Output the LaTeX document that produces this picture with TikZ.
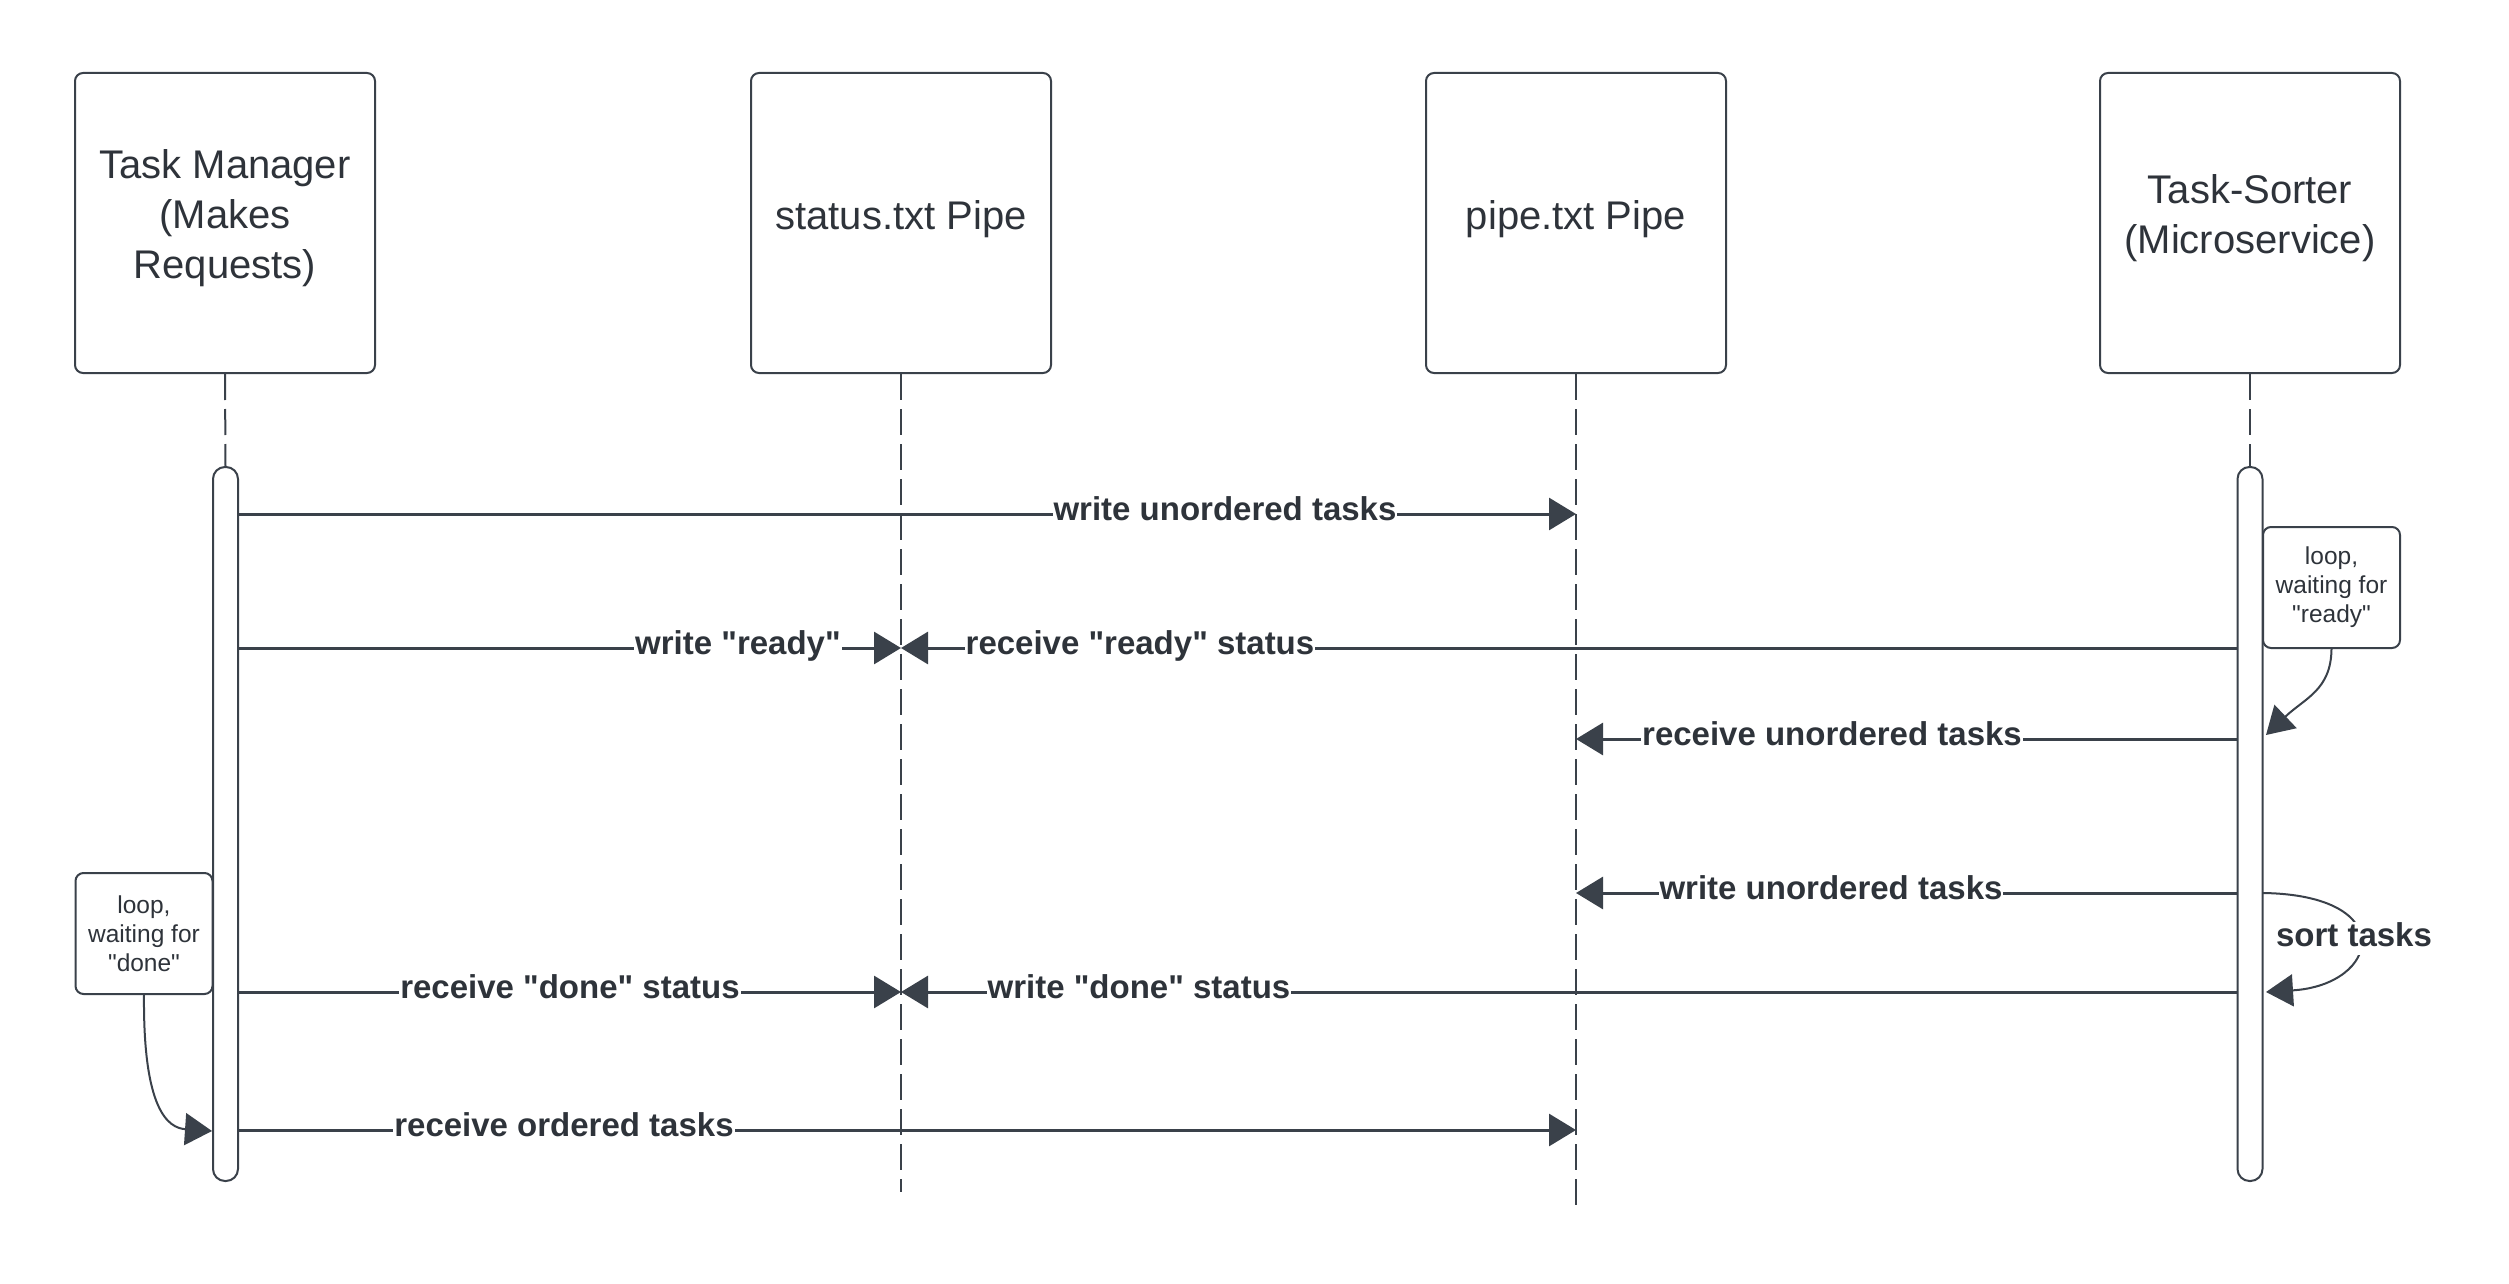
\documentclass[tikz,border=0pt]{standalone}
\usepackage{fontspec}
\newfontfamily\lsans{Liberation Sans}
\usetikzlibrary{arrows.meta}
\definecolor{ln}{HTML}{3A414A}
\definecolor{tx}{HTML}{2E333A}
\begin{document}
\begin{tikzpicture}[x=1pt,y=-1pt,
 box/.style={draw=ln,line width=2pt,rounded corners=8pt,minimum width=300pt,minimum height=300pt,inner sep=0pt},
 head/.style={text=tx,align=center,font=\lsans\fontsize{40pt}{50pt}\selectfont,inner sep=0pt},
 bar/.style={draw=ln,line width=2pt,fill=white,rounded corners=12pt,minimum width=25pt,minimum height=714pt,inner sep=0pt},
 life/.style={draw=ln,line width=2pt,dash pattern=on 26pt off 9pt},
 msg/.style={draw=ln,line width=3pt,-{Triangle[length=27pt,width=32pt]}},
 curv/.style={draw=ln,line width=2pt,-{Triangle[length=27pt,width=32pt]}},
 lbl/.style={text=tx,fill=white,inner sep=1pt,font=\lsans\fontsize{33pt}{40pt}\selectfont\bfseries,text height=24pt,text depth=7pt},
 note/.style={draw=ln,line width=2pt,fill=white,rounded corners=8pt,align=center,text=tx,font=\lsans\fontsize{24.5pt}{29pt}\selectfont,minimum width=137pt,minimum height=121pt,inner sep=0pt}
]
\useasboundingbox (0,0) rectangle (2509,1284);

% actor boxes
\node[box] (tm) at (225,223) {};
\node[box] (st) at (901,223) {};
\node[box] (pp) at (1576,223) {};
\node[box] (ts) at (2250,223) {};
\node[head] (tmt) at (225,218) {Task Manager\\(Makes\\Requests)};
\node[head] (stt) at (901,219) {status.txt Pipe};
\node[head] (ppt) at (1576,219) {pipe.txt Pipe};
\node[head] (tst) at (2250,218) {Task-Sorter\\(Microservice)};

% activation bars
\node[bar] (tmbar) at (225.5,824) {};
\node[bar] (tsbar) at (2250,824) {};

% lifelines
\coordinate (stend) at (901,1192);
\coordinate (ppend) at (1576,1208);
\draw[life] (tm.south) -- (tmbar.north);
\draw[life] (ts.south) -- (tsbar.north);
\draw[life] (st.south) -- (stend);
\draw[life] (pp.south) -- (ppend);

% message end points
\coordinate (a1) at (238,514);   \coordinate (b1) at (1576,514);
\coordinate (a2) at (238,648);   \coordinate (b2) at (901,648);
\coordinate (a3) at (2237,648);  \coordinate (b3) at (901,648);
\coordinate (a4) at (2237,739);  \coordinate (b4) at (1576,739);
\coordinate (a5) at (2237,893);  \coordinate (b5) at (1576,893);
\coordinate (a6) at (238,992);   \coordinate (b6) at (901,992);
\coordinate (a7) at (2237,992);  \coordinate (b7) at (901,992);
\coordinate (a8) at (238,1130);  \coordinate (b8) at (1576,1130);

\draw[msg] (a1) -- (b1);
\draw[msg] (a2) -- (b2);
\draw[msg] (a3) -- (b3);
\draw[msg] (a4) -- (b4);
\draw[msg] (a5) -- (b5);
\draw[msg] (a6) -- (b6);
\draw[msg] (a7) -- (b7);
\draw[msg] (a8) -- (b8);

\node[lbl] (l1) at (1225,512) {write unordered tasks};
\node[lbl] (l2) at (738,646) {write "ready"};
\node[lbl] (l3) at (1140,646) {receive "ready" status};
\node[lbl] (l4) at (1832,737) {receive unordered tasks};
\node[lbl] (l5) at (1831,891) {write unordered tasks};
\node[lbl] (l6) at (570,990) {receive "done" status};
\node[lbl] (l7) at (1139,990) {write "done" status};
\node[lbl] (l8) at (564,1128) {receive ordered tasks};

% notes
\node[note] (nready) at (2331.5,587.5) {loop,\\waiting for\\"ready"};
\node[note] (ndone) at (144,933.5) {loop,\\waiting for\\"done"};
\coordinate (rtip) at (2266,735);
\coordinate (dtip) at (212,1131);
\draw[curv] (nready.south) .. controls (2331,690) and (2305,698) .. (rtip);
\draw[curv] (ndone.south) .. controls (143,1110) and (168,1128) .. (dtip);

% self message: sort tasks
\coordinate (s1) at (2263,893);
\coordinate (s2) at (2266,992);
\draw[curv] (s1) .. controls (2400,895) and (2380,985) .. (s2);
\node[lbl] (lsort) at (2354,938) {sort tasks};
\end{tikzpicture}
\end{document}
